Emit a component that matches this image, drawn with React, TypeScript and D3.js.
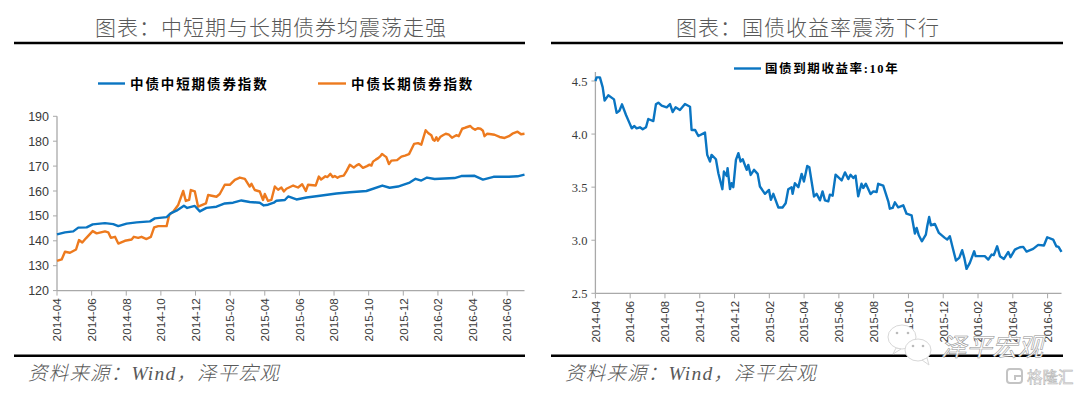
import React from "react";
import * as d3 from "d3";

const monthTicks = [0, 2, 4, 6, 8, 10, 12, 14, 16, 18, 20, 22, 24, 26];
const tickLabels = ["2014-04","2014-06","2014-08","2014-10","2014-12","2015-02","2015-04","2015-06","2015-08","2015-10","2015-12","2016-02","2016-04","2016-06"];
const leftTicks = [120,130,140,150,160,170,180,190];
const rightTicks = [2.5,3.0,3.5,4.0,4.5];

// months since 2014-04
const shortMonths = [0,.46,.94,1.23,1.71,2.06,2.77,3.25,3.54,4.02,4.6,5.37,5.65,6.33,6.56,6.9,7.33,7.52,7.96,8.25,8.63,9.21,9.69,10.17,10.65,11.13,11.71,11.94,12.19,12.52,12.67,13.16,13.35,13.83,14.41,15.08,16.14,16.91,17.87,18.79,19.21,19.69,20.37,20.71,21.04,21.37,21.81,22.96,23.35,24.12,24.6,25.21,26.1,26.6,27];
const shortValues = [142.6,143.4,143.8,145.3,145.4,146.6,147.1,146.7,145.9,146.9,147.4,147.8,149,149.5,151,152.1,154.1,153.2,154,151.8,153.2,153.7,155,155.3,156.2,155.6,155.3,154.2,154.5,155.3,156.1,156.4,157.8,156.6,157.4,158,159,159.5,160,162.2,161.3,161.8,163.4,164.9,164.2,165.4,164.8,165.2,166,166.1,164.6,165.7,165.7,165.9,166.6];

const longMonths = [0,.27,.46,.75,1.1,1.27,1.46,1.67,2.06,2.29,2.77,2.96,3.11,3.35,3.54,3.92,4.31,4.44,4.69,4.88,5.17,5.42,5.61,5.85,6.33,6.48,6.71,7,7.29,7.44,7.63,7.73,7.96,8.15,8.6,8.73,9.21,9.4,9.69,9.98,10.27,10.56,10.85,11.13,11.23,11.42,11.71,11.9,12,12.19,12.38,12.58,12.77,12.96,13.1,13.25,13.64,13.92,14.16,14.37,14.5,14.94,15.12,15.25,15.37,15.5,15.62,15.79,15.92,16.04,16.2,16.35,16.56,16.72,16.91,17.02,17.14,17.3,17.44,17.67,17.9,18.05,18.16,18.25,18.41,18.55,18.68,18.77,18.9,19.02,19.17,19.31,19.64,19.89,20.1,20.33,20.45,20.62,20.85,21.04,21.29,21.45,21.62,21.72,21.81,21.91,22,22.15,22.29,22.45,22.64,22.81,23.06,23.2,23.4,23.6,23.87,24.0,24.15,24.3,24.46,24.6,24.69,24.85,24.98,25.27,25.56,25.85,26.1,26.3,26.6,26.8,27];
const longValues = [131.9,132.5,135.6,135.2,136.5,140.3,139.3,141,143.9,143,143.8,143.4,141.2,141.6,138.9,140,140.5,141.6,141.2,141.6,140.7,141.6,145.4,145.9,145.9,150.4,151.7,154.4,160,156,156.4,160.4,159.8,153.7,155,158.4,157.7,158.8,162.5,162.5,164.5,165.4,164.9,161.8,162.9,160.4,159.8,156.4,158.8,156,156.4,161.8,160.5,161.4,159.8,160.9,162.2,161.4,162.7,160,162.5,162.2,165.8,164.6,165.2,165.9,165.6,166.9,165.6,166,165.3,165.9,166.2,168,170.5,170,169.4,170.3,170.8,169.3,170,170.6,170.2,171.8,172.6,173.2,174,174.9,174.2,173.6,170.8,172.2,172.4,173.8,174.2,174.8,176.5,178.9,179.2,178.6,184.4,183.2,182.4,180.6,180.2,181.6,180.2,181.8,182.4,183,182.6,181.4,182.4,182,185,185.5,186.1,185.2,184.6,185.2,185,184.2,182,183,182.9,182.6,181.7,181.3,182,183,183.8,182.8,183];

const yieldMonths = [0,.07,.26,.42,.53,.74,1.07,1.22,1.38,1.53,1.76,1.95,2.09,2.24,2.37,2.56,2.72,2.91,3.04,3.33,3.48,3.62,3.81,4.1,4.29,4.44,4.61,4.86,5.15,5.44,5.53,5.73,5.92,6.3,6.43,6.59,6.68,6.93,7.07,7.3,7.39,7.55,7.6,7.74,7.83,7.93,8.08,8.22,8.35,8.47,8.7,8.79,8.93,9.12,9.33,9.46,9.75,9.98,10.09,10.23,10.52,10.76,10.94,11.09,11.28,11.34,11.47,11.67,11.86,11.99,12.18,12.3,12.57,12.72,12.91,13.06,13.2,13.39,13.48,13.64,13.81,14.16,14.35,14.54,14.67,14.83,14.96,15.11,15.3,15.4,15.55,15.82,15.98,16.17,16.26,16.55,16.84,16.93,17.09,17.22,17.41,17.7,17.89,18.18,18.37,18.47,18.6,18.77,19,19.08,19.19,19.29,19.52,19.75,20.09,20.23,20.38,20.57,20.73,20.92,21.09,21.21,21.34,21.53,21.78,21.86,22.39,22.59,22.78,22.91,23.1,23.26,23.49,23.74,23.87,24.12,24.41,24.6,24.79,25.17,25.46,25.79,25.98,26.32,26.5,26.63,26.8];
const yieldValues = [4.5,4.534,4.534,4.44,4.315,4.365,4.327,4.2,4.22,4.28,4.18,4.108,4.054,4.076,4.054,4.064,4.045,4.064,4.142,4.123,4.28,4.296,4.268,4.252,4.283,4.208,4.252,4.227,4.283,4.258,4.039,4.039,3.982,4.014,3.804,3.741,3.804,3.763,3.631,3.481,3.647,3.606,3.678,3.481,3.537,3.5,3.757,3.82,3.741,3.763,3.663,3.71,3.615,3.663,3.625,3.506,3.437,3.474,3.38,3.437,3.308,3.308,3.349,3.481,3.5,3.437,3.537,3.5,3.625,3.553,3.7,3.688,3.412,3.437,3.376,3.46,3.376,3.366,3.429,3.42,3.617,3.564,3.639,3.576,3.617,3.586,3.608,3.413,3.532,3.492,3.532,3.435,3.46,3.454,3.532,3.514,3.366,3.297,3.304,3.357,3.31,3.329,3.25,3.235,3.062,3.116,3.044,2.99,3.053,3.131,3.219,3.141,3.153,3.069,3.022,3.006,3.037,2.912,2.809,2.834,2.906,2.834,2.73,2.787,2.896,2.85,2.85,2.818,2.865,2.859,2.943,2.85,2.824,2.89,2.84,2.912,2.934,2.937,2.893,2.918,2.956,2.95,3.028,3.006,2.943,2.937,2.89];

const BLUE = "#0a75c2";
const ORANGE = "#ed7a1e";
const AXIS = "#a9a9a9";
const TEXT = "#3a3a3a";
const CJK = '"Noto Sans CJK SC", sans-serif';

const xLeft = d3.scaleLinear().domain([0, 27]).range([57, 524.5]);
const yLeft = d3.scaleLinear().domain([120, 190]).range([290.6, 116.3]);
const xRight = d3.scaleLinear().domain([0, 26.8]).range([595.4, 1061.5]);
const yRight = d3.scaleLinear().domain([2.5, 4.5]).range([293.3, 81]);

function pathOf(ms: number[], vs: number[], x: any, y: any) {
  const line = d3.line<number>().x((m) => x(m)).y((_, i) => y(vs[i]));
  return line(ms) || "";
}

function XAxis({ x, y0, size, offset }: { x: any; y0: number; size: number; offset: number }) {
  const [a, b] = x.range();
  return (
    <g>
      <line x1={a} x2={b} y1={y0} y2={y0} stroke={AXIS} strokeWidth={1.3} />
      {monthTicks.map((m, i) => (
        <g key={m} transform={`translate(${x(m)},${y0})`}>
          <line y1={0} y2={5} stroke={AXIS} strokeWidth={1} />
          <text transform={`translate(4.3,${offset}) rotate(-90)`} textAnchor="end" fontFamily="Liberation Sans" fontSize={size} fill={TEXT}>{tickLabels[i]}</text>
        </g>
      ))}
    </g>
  );
}

function Panel({ title, titleX, x0, x1 }: { title: string; titleX: number; x0: number; x1: number }) {
  return (
    <g>
      <text x={titleX} y={35} textAnchor="middle" fontFamily={CJK} fontWeight={300} fontSize={21} letterSpacing={1} fill="#595959">{title}</text>
      <line x1={x0} x2={x1} y1={43} y2={43} stroke="#000" strokeWidth={2.6} />
      <line x1={x0} x2={x1} y1={355.7} y2={355.7} stroke="#000" strokeWidth={2.6} />
      <text x={x0 + 14} y={380} fontFamily={`"Liberation Serif", ${CJK}`} fontStyle="italic" fontWeight={300} fontSize={19.5} letterSpacing={1.2} fill="#595959">资料来源：Wind，泽平宏观</text>
    </g>
  );
}

export default function App() {
  return (
    <svg width={1080} height={394} style={{ position: "absolute", left: 0, top: 0, background: "#fff" }}>
      <Panel title="图表：中短期与长期债券均震荡走强" titleX={271} x0={14} x1={525} />
      <Panel title="图表：国债收益率震荡下行" titleX={808} x0={551} x1={1063} />

      {/* Left chart */}
      <line x1={xLeft(0)} x2={xLeft(0)} y1={yLeft(190)} y2={yLeft(120)} stroke={AXIS} strokeWidth={1.3} />
      {leftTicks.map((t) => (
        <g key={t} transform={`translate(${xLeft(0)},${yLeft(t)})`}>
          <line x1={-4} x2={0} stroke={AXIS} />
          <text x={-8} y={4.5} textAnchor="end" fontFamily="Liberation Sans" fontSize={12.5} fill={TEXT}>{t}</text>
        </g>
      ))}
      <XAxis x={xLeft} y0={yLeft(120)} size={11.8} offset={7.5} />
      <path d={pathOf(longMonths, longValues, xLeft, yLeft)} fill="none" stroke={ORANGE} strokeWidth={2.4} strokeLinejoin="round" />
      <path d={pathOf(shortMonths, shortValues, xLeft, yLeft)} fill="none" stroke={BLUE} strokeWidth={2.4} strokeLinejoin="round" />
      <line x1={98} x2={125} y1={83.5} y2={83.5} stroke={BLUE} strokeWidth={2.4} />
      <text x={130} y={88.5} fontFamily={CJK} fontWeight={700} fontSize={13.5} letterSpacing={1.9} fill="#000">中债中短期债券指数</text>
      <line x1={318} x2={346} y1={83.5} y2={83.5} stroke={ORANGE} strokeWidth={2.4} />
      <text x={351} y={88.5} fontFamily={CJK} fontWeight={700} fontSize={13.5} letterSpacing={1.9} fill="#000">中债长期债券指数</text>

      {/* Right chart */}
      <line x1={xRight(0)} x2={xRight(0)} y1={72} y2={yRight(2.5)} stroke={AXIS} strokeWidth={1.3} />
      {rightTicks.map((t) => (
        <g key={t} transform={`translate(${xRight(0)},${yRight(t)})`}>
          <line x1={-4} x2={0} stroke={AXIS} />
          <text x={-8} y={4.5} textAnchor="end" fontFamily="Liberation Serif" fontSize={12.5} fill={TEXT}>{t.toFixed(1)}</text>
        </g>
      ))}
      <XAxis x={xRight} y0={yRight(2.5)} size={11.4} offset={7.5} />
      <path d={pathOf(yieldMonths, yieldValues, xRight, yRight)} fill="none" stroke={BLUE} strokeWidth={2.4} strokeLinejoin="round" />
      <line x1={734} x2={761} y1={68.5} y2={68.5} stroke={BLUE} strokeWidth={2.4} />
      <text x={765} y={73} fontFamily={`"Liberation Serif", ${CJK}`} fontWeight={700} fontSize={12.5} letterSpacing={1.6} fill="#000">国债到期收益率:10年</text>

      {/* Watermarks */}
      <g fill="#fff" stroke="#d8d8d8" strokeWidth={1}>
        <ellipse cx={902} cy={337} rx={14} ry={12} />
        <path d="M896 348 l-3 6 l8 -5 z" />
        <ellipse cx={918} cy={350} rx={13} ry={11} />
        <path d="M922 360 l7 5 l-2 -7 z" />
      </g>
      <g fill="#bbb">
        <circle cx={897} cy={333} r={1.3} />
        <circle cx={908} cy={333} r={1.3} />
        <circle cx={913} cy={346} r={1.3} />
        <circle cx={923} cy={346} r={1.3} />
      </g>
      <text x={941} y={356} fontFamily={CJK} fontStyle="italic" fontSize={25.5} fill="#fff" stroke="#8a8a8a" strokeWidth={0.5}>泽平宏观</text>
      <text x={1027} y={383} fontFamily={CJK} fontSize={15.5} fill="#fff" stroke="#b5b5b5" strokeWidth={0.6}>格隆汇</text>
      <rect x={1007} y={369} width={15} height={14} rx={3} fill="none" stroke="#c4c4c4" strokeWidth={2} />
      <path d="M1022 376 h-7 v4" fill="none" stroke="#c4c4c4" strokeWidth={2} />
    </svg>
  );
}
